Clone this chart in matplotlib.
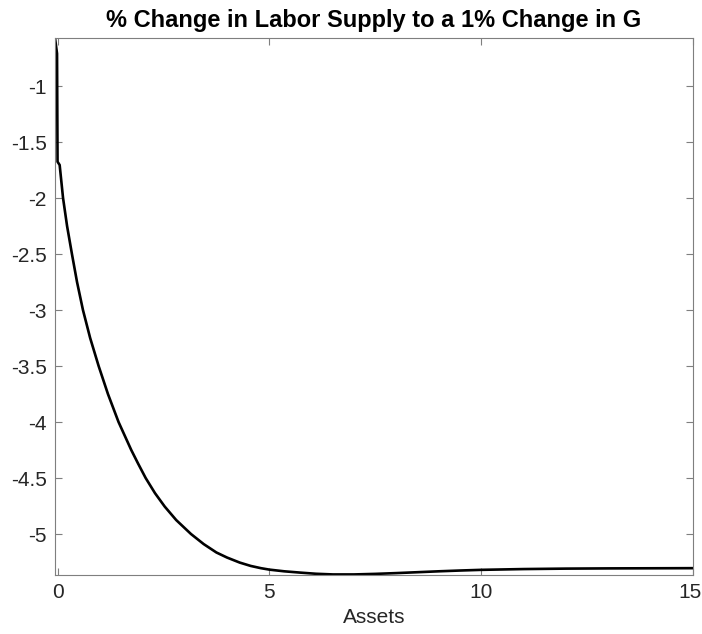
import matplotlib
matplotlib.use("Agg")
import matplotlib.pyplot as plt
import matplotlib.transforms as mtransforms

assets = [-0.06, -0.012, 0.0, 0.05, 0.13, 0.225, 0.34, 0.46, 0.60, 0.77, 0.97, 1.19,
          1.44, 1.74, 1.90, 2.08, 2.30, 2.53, 2.80, 3.15, 3.45, 3.75, 4.0, 4.3, 4.56,
          4.8, 5.0, 5.35, 5.74, 6.1, 6.5, 7.0, 7.5, 8.0, 8.5, 9.0, 9.5, 10.0, 11.0,
          12.0, 13.0, 14.0, 15.0]
labor_change = [-0.571, -0.71, -1.676, -1.705, -2.0, -2.25, -2.5, -2.75, -3.0,
                -3.25, -3.5, -3.75, -4.0, -4.25, -4.37, -4.5, -4.635, -4.755, -4.875,
                -5.0, -5.09, -5.165, -5.21, -5.255, -5.285, -5.305, -5.318, -5.333,
                -5.345, -5.355, -5.361, -5.361, -5.356, -5.349, -5.341, -5.333, -5.326,
                -5.320, -5.313, -5.309, -5.307, -5.306, -5.305]

x_ticks = [0, 5, 10, 15]
y_ticks = [-1, -1.5, -2, -2.5, -3, -3.5, -4, -4.5, -5]
y_tick_labels = ["-1", "-1.5", "-2", "-2.5", "-3", "-3.5", "-4", "-4.5", "-5"]

plt.rcParams['font.family'] = ['Liberation Sans', 'DejaVu Sans']

fig = plt.figure(figsize=(7.02, 6.34), dpi=100)
ax = fig.add_axes([55/702, 1-575/634, (693-55)/702, (575-38)/634])
ax.plot(assets, labor_change, color='black', linewidth=1.9,
        solid_joinstyle='round', solid_capstyle='round')
ax.set_xlim(-0.06, 15.0)
ax.set_ylim(-5.366, -0.571)
ax.set_xticks(x_ticks)
ax.set_xticklabels([str(t) for t in x_ticks])
ax.set_yticks(y_ticks)
ax.set_yticklabels(y_tick_labels)
gray = '#7f7f7f'
for s in ax.spines.values():
    s.set_color(gray)
    s.set_linewidth(0.8)
ax.tick_params(direction='in', length=5, width=0.8, color=gray, labelsize=15,
               labelcolor='#262626', top=True, right=True, pad=6)
# nudge the last x tick label slightly left so it stays inside the canvas
last = ax.get_xticklabels()[-1]
last.set_transform(last.get_transform() +
                   mtransforms.ScaledTranslation(-3/100, 0, fig.dpi_scale_trans))
ax.set_xlabel('Assets', fontsize=15, color='#262626', labelpad=4)
ax.set_title('% Change in Labor Supply to a 1% Change in G', fontsize=17,
             fontweight='bold', color='black', pad=8)
fig.savefig('out.png', dpi=100)
